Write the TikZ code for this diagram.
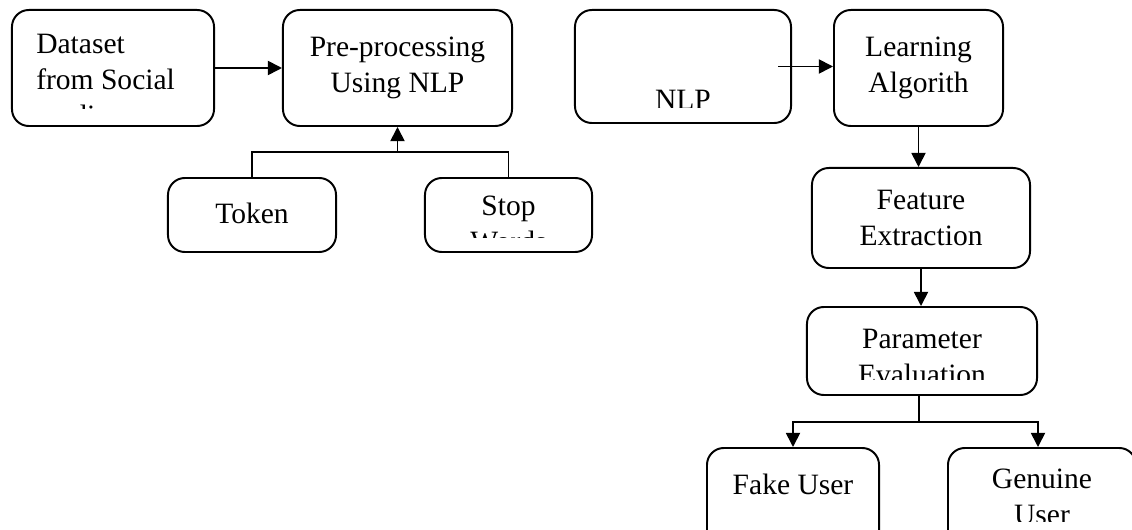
\documentclass[tikz,border=0pt]{standalone}
\usepackage{fontspec}
\setmainfont{Liberation Serif}
\usetikzlibrary{arrows.meta}

\tikzset{
  box/.style={draw, line width=1.4pt, rounded corners=12pt, inner sep=0pt, align=center},
  lbl/.style={align=center, inner sep=0pt, anchor=north, execute at begin node=\strut},
  arr/.style={-{Triangle[length=10pt,width=10pt]}, line width=1.2pt},
  link/.style={line width=1.2pt},
}

\begin{document}
\begin{tikzpicture}[x=0.025cm, y=-0.025cm, font=\fontsize{21}{25.6}\selectfont]
  \clip (0,0) rectangle (1132,530);

  % left part
  \node[box, minimum width=5.05cm, minimum height=2.9cm] (d) at (113,68) {};
  \node[box, minimum width=5.725cm, minimum height=2.9cm] (p) at (397.5,68) {Pre-processing\\Using NLP};
  \node[box, minimum width=4.2cm, minimum height=1.85cm] (t) at (252,215) {};
  \node[box, minimum width=4.175cm, minimum height=1.85cm] (s) at (508.5,215) {};

  % right part
  \node[box, minimum width=5.4cm, minimum height=2.825cm] (n) at (683,66.5) {};
  \node[box, minimum width=4.225cm, minimum height=2.9cm] (l) at (918.5,68) {Learning\\Algorith};
  \node[box, minimum width=5.45cm, minimum height=2.5cm] (f) at (921,218) {Feature\\Extraction};
  \node[box, minimum width=5.75cm, minimum height=2.2cm] (e) at (922,351) {};
  \node[box, minimum width=4.3cm, minimum height=2.8cm] (k) at (793,504) {};
  \node[box, minimum width=4.7cm, minimum height=2.8cm] (g) at (1042,504) {};

  % texts that run past the box are cut off
  \begin{scope}
    \clip (12,10) rectangle (214,109);
    \node[lbl, align=left, anchor=north west] (dt) at (36,34) {Dataset\\from Social\\media};
  \end{scope}
  \node[lbl] (tt) at (252,198) {Token};
  \begin{scope}
    \clip (425,178) rectangle (592,238);
    \node[lbl] (st) at (508.5,196) {Stop\\Words};
  \end{scope}
  \begin{scope}
    \clip (575,10) rectangle (791,108);
    \node[lbl] (nt) at (683,84) {NLP};
  \end{scope}
  \begin{scope}
    \clip (807,307) rectangle (1037,380);
    \node[lbl] (et) at (922,329) {Parameter\\Evaluation};
  \end{scope}
  \node[lbl] (kt) at (793,469) {Fake User};
  \begin{scope}
    \clip (948,448) rectangle (1136,522);
    \node[lbl] (gt) at (1042,469) {Genuine\\User};
  \end{scope}

  % connectors
  \draw[arr] (d) -- (p);
  \coordinate (join) at (397.5,152);
  \draw[link] (t.north) |- (join) -| (s.north);
  \draw[arr] (join) -- (p.south);

  \draw[arr] ([xshift=-0.35cm]n.east) -- (n.east -| l.west);
  \draw[arr] (l.south) -- (l.south |- f.north);
  \draw[arr] (f.south) -- (f.south |- e.north);

  \coordinate (split) at (919,422);
  \draw[link] (e.south -| split) -- (split);
  \draw[arr] (split) -| (k.north);
  \draw[arr] (split) -| ([xshift=-0.1cm]g.north);
\end{tikzpicture}
\end{document}
